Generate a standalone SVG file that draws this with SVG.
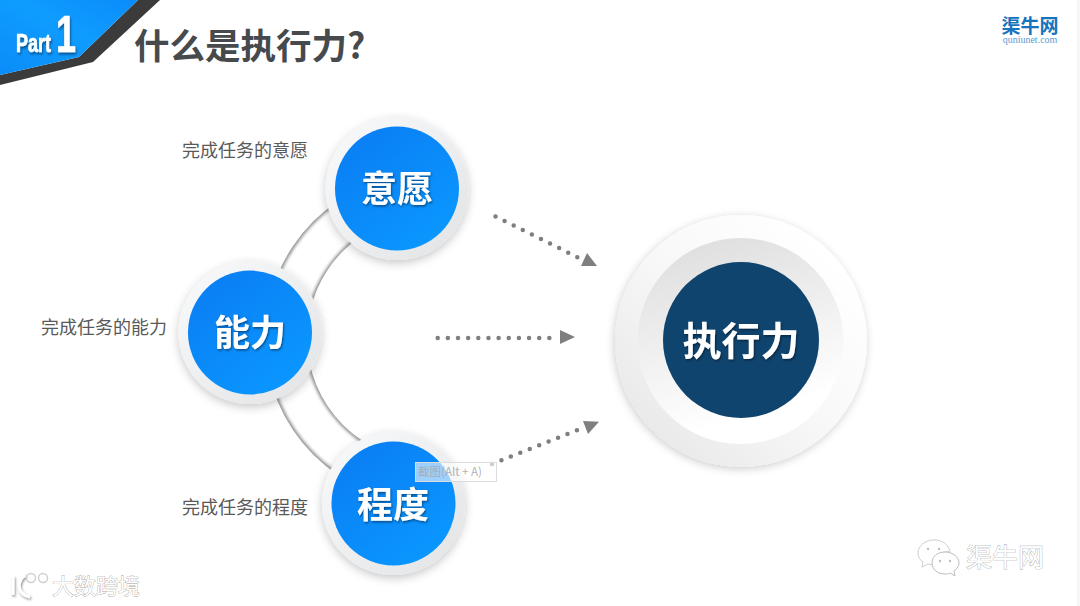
<svg xmlns="http://www.w3.org/2000/svg" width="1080" height="606" viewBox="0 0 1080 606">
<style>
text{font-family:"Noto Sans CJK SC","Liberation Sans",sans-serif}
.lab{font-size:18px;fill:#595959;text-anchor:middle}
.nm{font-size:36px;font-weight:700;fill:#fff;text-anchor:middle;filter:url(#ts)}
.dots{fill:none;stroke:#7f7f7f;stroke-width:4.5;stroke-linecap:round;stroke-dasharray:0 10.15}
.tri{fill:#7f7f7f}
.wm{font-weight:400;fill:#fff;stroke:#a0a0a0;stroke-width:.7;paint-order:stroke}
.lat{font-family:"Liberation Sans",sans-serif;font-weight:700;fill:#fff;stroke:#fff;stroke-width:.5;filter:url(#ts)}
</style>
<defs>
<linearGradient id="blue" x1=".15" y1=".05" x2=".85" y2=".95"><stop offset="0" stop-color="#0a7ef4"/><stop offset="1" stop-color="#0a98ff"/></linearGradient>
<linearGradient id="ring" x1=".1" y1=".1" x2=".9" y2=".9"><stop offset="0" stop-color="#f6f8f9"/><stop offset="1" stop-color="#e4e5e6"/></linearGradient>
<linearGradient id="ban" x1="0" y1="1" x2="1" y2="0"><stop offset="0" stop-color="#0a8cf8"/><stop offset=".55" stop-color="#0f9cff"/><stop offset="1" stop-color="#0a8cfa"/></linearGradient>
<linearGradient id="outer" x1=".15" y1=".85" x2=".85" y2=".15"><stop offset="0" stop-color="#eaeaea"/><stop offset=".5" stop-color="#f8f8f8"/><stop offset="1" stop-color="#fff"/></linearGradient>
<linearGradient id="mid" x1=".35" y1="0" x2=".65" y2="1"><stop offset="0" stop-color="#dfdfdf"/><stop offset=".5" stop-color="#f2f2f2"/><stop offset=".85" stop-color="#fff"/></linearGradient>
<filter id="sh" x="-30%" y="-30%" width="160%" height="160%"><feDropShadow dx="0" dy="3" stdDeviation="5" flood-color="#000" flood-opacity=".22"/></filter>
<filter id="sh2" x="-20%" y="-20%" width="140%" height="140%"><feDropShadow dx="-1" dy="2" stdDeviation="4" flood-color="#000" flood-opacity=".2"/></filter>
<filter id="ts" x="-20%" y="-20%" width="140%" height="140%"><feDropShadow dx="1" dy="1.5" stdDeviation=".8" flood-color="#000" flood-opacity=".45"/></filter>
<filter id="bl" x="-20%" y="-20%" width="140%" height="140%"><feGaussianBlur stdDeviation="1.8"/></filter>
<clipPath id="band"><path clip-rule="evenodd" d="M265 338a165 165 0 1 0 330 0a165 165 0 1 0-330 0zM307 338a123 123 0 1 0 246 0a123 123 0 1 0-246 0z"/></clipPath>
</defs>
<rect width="1080" height="606" fill="#fff"/>
<rect x="1077" width="3" height="606" fill="#f6f6f6"/>

<g id="banner">
<path d="M138 0H160L93 62L0 85V75L79 57z" fill="#3b3b3b"/>
<path d="M0 0H138L79 57L0 75z" fill="url(#ban)"/>
<text class="lat" transform="translate(16 52) scale(1 1.39)" font-size="18">Part</text>
<text class="lat" transform="translate(56 52) scale(1 1.45)" font-size="36">1</text>
</g>
<text id="title" x="134" y="59" font-size="35.500" font-weight="700" fill="#474a4d">什么是执行力?</text>

<g id="logo">
<text x="1030" y="33" font-size="19" font-weight="700" fill="#1673bd" text-anchor="middle">渠牛网</text>
<text x="1030" y="43" font-size="10" fill="#5d9bd0" text-anchor="middle" style="font-family:'Liberation Serif',serif">quniunet.com</text>
</g>

<g id="band-arc" clip-path="url(#band)">
<path d="M400 197.200A144 144 0 0 0 400 478.800" fill="none" stroke="#969696" stroke-width="44"/>
<path d="M400 197.200A144 144 0 0 0 400 478.800" fill="none" stroke="#fff" stroke-width="38" filter="url(#bl)"/>
</g>

<g id="connectors">
<path class="dots" d="M495.500 216.500L579 258"/>
<path class="tri" d="M597 266L581 266L587 253z"/>
<path class="dots" d="M437.700 338L552 338"/>
<path class="tri" d="M575 337L560 330V344z"/>
<path class="dots" d="M492 464L579 429.500"/>
<path class="tri" d="M599 421.700L583 421L588 434z"/>
</g>

<g id="node-yiyuan">
<circle cx="397" cy="188.500" r="71.500" fill="url(#ring)" filter="url(#sh)"/>
<circle cx="397" cy="188.500" r="62" fill="url(#blue)"/>
<text class="nm" x="397" y="202">意愿</text>
</g>
<g id="node-nengli">
<circle cx="250" cy="332.500" r="71.500" fill="url(#ring)" filter="url(#sh)"/>
<circle cx="250" cy="332.500" r="62" fill="url(#blue)"/>
<text class="nm" x="250" y="346">能力</text>
</g>
<g id="node-chengdu">
<circle cx="393.500" cy="503.500" r="71.500" fill="url(#ring)" filter="url(#sh)"/>
<circle cx="393.500" cy="503.500" r="62" fill="url(#blue)"/>
<text class="nm" x="393" y="518">程度</text>
</g>
<g id="node-zhixingli">
<circle cx="741" cy="341" r="126" fill="url(#outer)" filter="url(#sh2)"/>
<circle cx="740.500" cy="341" r="103" fill="url(#mid)"/>
<circle cx="741" cy="340" r="78" fill="#0f446f"/>
<text class="nm" x="741" y="355" style="font-size:39px">执行力</text>
</g>

<text class="lab" x="245" y="157">完成任务的意愿</text>
<text class="lab" x="104" y="334">完成任务的能力</text>
<text class="lab" x="245" y="514">完成任务的程度</text>

<g id="tooltip">
<rect x="415.500" y="462.500" width="81" height="19" fill="#fff" fill-opacity=".6" stroke="#dcdcdc"/>
<text x="418" y="476" font-size="11.500" fill="#a8a8a8" fill-opacity=".9">截图(Alt + A)</text>
</g>

<g id="wm-left">
<path d="M13 576V595M25 575C16 582 17 594 30 597" fill="none" stroke="#fff" stroke-width="3" filter="url(#ts)"/>
<circle cx="31" cy="578" r="4.500" fill="none" stroke="#d0d0d0" stroke-width="1.500"/>
<circle cx="43" cy="578" r="4.500" fill="none" stroke="#d0d0d0" stroke-width="1.500"/>
<text class="wm" x="52" y="594" font-size="22">大数跨境</text>
</g>
<g id="wm-right" transform="translate(-1 -3)">
<path d="M935 543c-9 0-16 6-16 13c0 4 2 7 5 9l-1 5l6-3c2 .5 4 .8 6 .8c-1-8 7-14 16-13c-1-7-8-12-16-12z" fill="#fff" stroke="#cfcfcf"/>
<path d="M946 555c-8 0-13 5-13 11c0 6 5 11 13 11c2 0 3 0 5-1l5 3l-1-5c3-2 5-5 5-8c0-6-6-11-14-11z" fill="#fff" stroke="#bdbdbd"/>
<g fill="#bdbdbd"><circle cx="929" cy="552" r="1.200"/><circle cx="940" cy="552" r="1.200"/><circle cx="941" cy="564" r="1.200"/><circle cx="951" cy="564" r="1.200"/></g>
</g>
<text class="wm" x="966" y="567" font-size="26">渠牛网</text>
</svg>
